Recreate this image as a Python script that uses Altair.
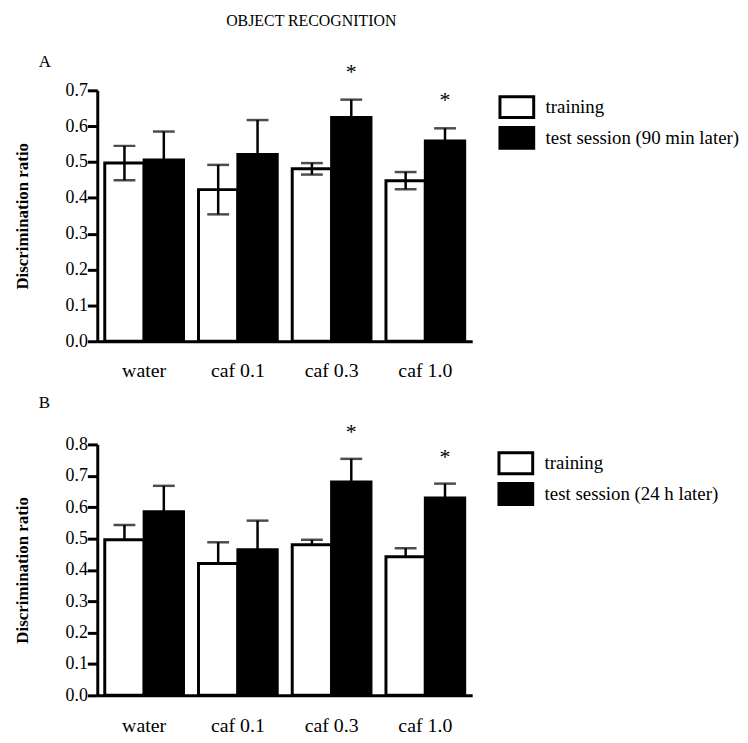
import altair as alt
import pandas as pd

groups = ["water", "caf 0.1", "caf 0.3", "caf 1.0"]
kinds = ["train", "test"]
series_a = ["training", "test session (90 min later)"]
series_b = ["training", "test session (24 h later)"]

a_train_mean = [0.497, 0.423, 0.481, 0.448]
a_train_sem = [0.048, 0.069, 0.016, 0.024]
a_test_mean = [0.506, 0.521, 0.624, 0.559]
a_test_sem = [0.079, 0.096, 0.050, 0.035]

b_train_mean = [0.496, 0.420, 0.480, 0.442]
b_train_sem = [0.047, 0.068, 0.016, 0.027]
b_test_mean = [0.585, 0.464, 0.680, 0.629]
b_test_sem = [0.083, 0.093, 0.074, 0.046]

significant = [False, False, True, True]

FONT = "Liberation Serif"


def make_df(series, train_mean, train_sem, test_mean, test_sem, both_dirs):
    rows = []
    for i, g in enumerate(groups):
        for k, s, m, e in [(kinds[0], series[0], train_mean[i], train_sem[i]),
                           (kinds[1], series[1], test_mean[i], test_sem[i])]:
            is_test = k == "test"
            rows.append({
                "group": g, "kind": k, "series": s, "mean": m,
                "hi": m + e,
                "lo": (m - e) if both_dirs else m,
                "lowcap": both_dirs and not is_test,
                "sig": is_test and significant[i],
            })
    return pd.DataFrame(rows)


def panel(df, series, ymax, letter, title_offset, legend_x, legend_y, star_dy):
    yticks = [round(0.1 * k, 1) for k in range(int(round(ymax * 10)) + 1)]
    yscale = alt.Scale(domain=[0, ymax], nice=False)
    yaxis = alt.Axis(values=yticks, format=".1f", title="Discrimination ratio")
    base = alt.Chart(df).encode(
        x=alt.X("group:N", sort=groups, title=None,
                scale=alt.Scale(paddingInner=0.16, paddingOuter=0.08),
                axis=alt.Axis(ticks=False, labelAngle=0, labelPadding=20,
                              labelFontSize=20)),
        xOffset=alt.XOffset("kind:N", sort=kinds,
                            scale=alt.Scale(domain=kinds, paddingInner=0, paddingOuter=0)),
    )
    bars = base.mark_bar(stroke="black", strokeWidth=3).encode(
        y=alt.Y("mean:Q", scale=yscale, axis=yaxis),
        fill=alt.Fill("series:N", sort=series,
                      scale=alt.Scale(domain=series, range=["white", "black"]),
                      legend=alt.Legend(
                          title=None, orient="none", legendX=legend_x, legendY=legend_y,
                          symbolType="M-1.62,-1H1.62V1H-1.62Z", symbolSize=441,
                          symbolStrokeColor="black", symbolStrokeWidth=3,
                          labelFont=FONT, labelFontSize=19, labelColor="black",
                          labelOffset=17, rowPadding=-3, padding=0,
                          labelLimit=400)),
    )
    rule = base.mark_rule(color="black", strokeWidth=2.5).encode(
        y=alt.Y("lo:Q", scale=yscale, axis=yaxis), y2="hi:Q")
    cap_hi = base.mark_tick(color="black", thickness=2.5, size=22).encode(
        y=alt.Y("hi:Q", scale=yscale, axis=yaxis))
    cap_lo = base.transform_filter("datum.lowcap").mark_tick(
        color="black", thickness=2.5, size=22).encode(
        y=alt.Y("lo:Q", scale=yscale, axis=yaxis))
    stars = base.transform_filter("datum.sig").mark_text(
        text="*", dy=star_dy, fontSize=22, font=FONT, color="black", baseline="middle").encode(
        y=alt.Y("hi:Q", scale=yscale, axis=yaxis))
    return alt.layer(bars, rule, cap_hi, cap_lo, stars).properties(
        width=378, height=253,
        title=alt.TitleParams(letter, anchor="start", frame="group", dx=-59,
                              font=FONT, fontSize=17, fontWeight="normal",
                              color="black", offset=title_offset),
    )


df_a = make_df(series_a, a_train_mean, a_train_sem, a_test_mean, a_test_sem, True)
df_b = make_df(series_b, b_train_mean, b_train_sem, b_test_mean, b_test_sem, False)

chart = alt.vconcat(
    panel(df_a, series_a, 0.7, "A", -10, 411, 5, -28),
    panel(df_b, series_b, 0.8, "B", 9, 410, 7, -27),
    spacing=13,
).resolve_scale(fill="independent").properties(
    padding={"top": 2, "left": 5, "right": 0, "bottom": 0},
    title=alt.TitleParams("OBJECT RECOGNITION", anchor="middle", font=FONT,
                          fontSize=16, fontWeight="normal", color="black", dx=-66,
                          offset=24),
).configure_view(stroke=None).configure_axis(
    labelFont=FONT, titleFont=FONT, labelFontSize=18, titleFontSize=17,
    titleFontWeight="bold", labelColor="black", titleColor="black",
    domainColor="black", domainWidth=3, tickColor="black", tickWidth=3,
    tickSize=10, grid=False, labelPadding=0, titlePadding=34,
)

chart.save("out.html", embed_options={"renderer": "svg", "actions": False})
